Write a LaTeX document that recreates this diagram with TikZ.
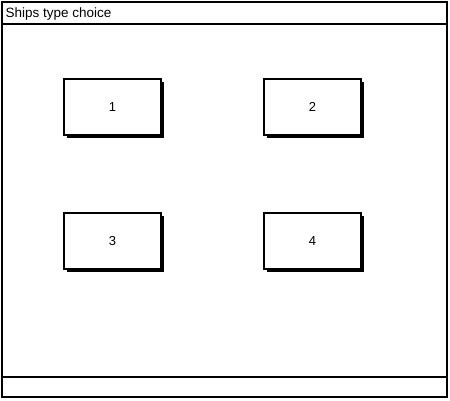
\documentclass[tikz,border=0pt]{standalone}
\usepackage{fontspec}
\setmainfont{Liberation Sans}
\begin{document}
\begin{tikzpicture}[x=1pt,y=-1pt,
  frame/.style={draw=black,line width=2pt},
  card/.style={draw=black,line width=1.8pt,fill=white,minimum width=97pt,minimum height=56pt,inner sep=0pt,
    font=\fontsize{13}{15}\selectfont},
  shade/.style={fill=black}]
\useasboundingbox (0,0) rectangle (450,400);
\fill[white] (0,0) rectangle (450,400);
% window frame
\draw[frame] (1.5,1.5) rectangle (447,397);
\coordinate (tl) at (1.5,23.5);
\coordinate (tr) at (447,23.5);
\draw[frame] (tl) -- (tr);
\coordinate (bl) at (1.5,376.5);
\coordinate (br) at (447,376.5);
\node[anchor=base west,inner sep=0pt,font=\fontsize{13.5}{15}\selectfont] (title) at (5.5,17.5) {Ships type choice};
\draw[frame] (bl) -- (br);
% shadows
\foreach \x/\y in {63/78,263/78,63/212,263/212}{
  \fill[shade] (\x+4,\y+4) rectangle (\x+100.5,\y+59.5);
}
\node[card,anchor=north west] (b1) at (63,78) {1};
\node[card,anchor=north west] (b2) at (263,78) {2};
\node[card,anchor=north west] (b3) at (63,212) {3};
\node[card,anchor=north west] (b4) at (263,212) {4};
\end{tikzpicture}
\end{document}
